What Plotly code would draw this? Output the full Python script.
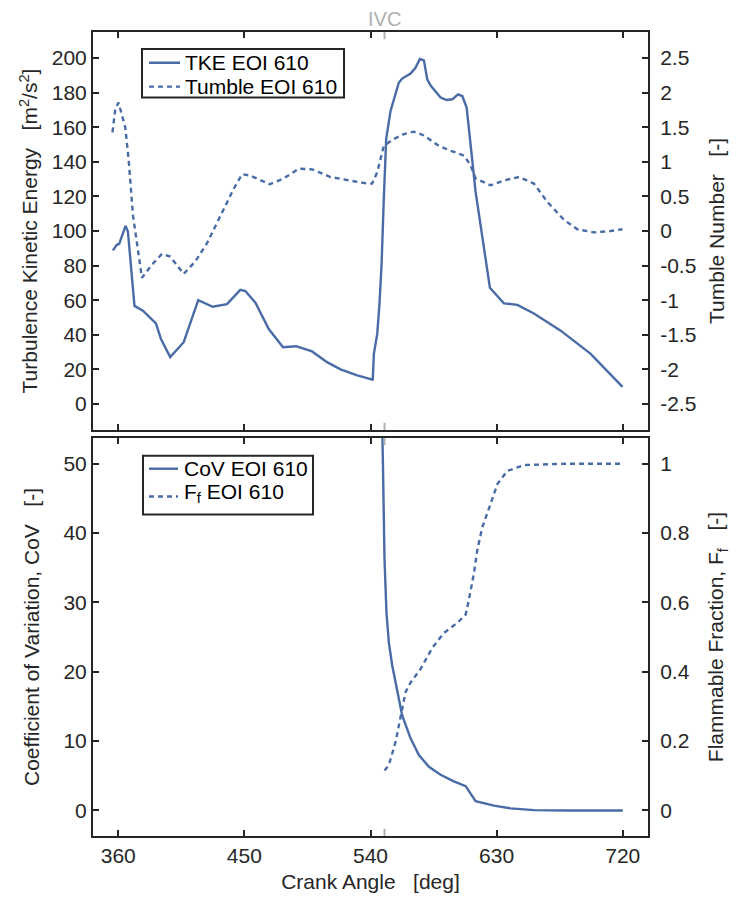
import plotly.graph_objects as go

# ---------------- data ----------------
tke_angle = [356.2, 359.0, 360.7, 365.2, 366.9, 371.6, 377.6, 386.9, 390.5, 397.1,
             406.7, 417.1, 427.4, 437.6, 447.1, 450.7, 457.9, 467.4, 477.6, 486.9,
             498.3, 509.0, 518.6, 530.5, 540.7, 541.6, 542.4, 544.8, 546.4, 547.9,
             549.5, 551.2, 554.3, 560.2, 562.6, 568.6, 572.1, 575.2, 578.1, 580.5,
             582.9, 590.0, 594.3, 598.4, 602.4, 605.5, 608.6, 615.0, 625.2, 635.2,
             644.8, 656.6, 675.7, 690.0, 697.1, 719.8]
tke_value = [88.8, 92.0, 92.6, 103.0, 99.7, 56.7, 53.9, 46.6, 37.6, 27.1,
             35.7, 60.0, 56.2, 57.7, 66.0, 65.3, 58.6, 43.3, 32.8, 33.4,
             30.4, 24.2, 20.0, 16.6, 14.3, 13.8, 29.0, 40.5, 57.7, 80.6,
             118.8, 153.2, 169.4, 185.7, 188.1, 191.0, 194.3, 199.4, 198.6, 187.6,
             184.1, 177.1, 175.7, 176.1, 179.0, 178.0, 171.3, 122.6, 67.2, 58.2,
             57.3, 52.3, 42.4, 33.8, 29.0, 9.9]

tumble_angle = [355.9, 357.9, 360.2, 365.0, 367.4, 370.5, 376.9, 384.1, 391.2, 397.1,
                406.7, 415.0, 423.4, 432.9, 442.4, 448.4, 454.3, 468.1, 478.1, 488.8,
                498.4, 511.4, 524.5, 537.6, 541.2, 544.8, 549.5, 556.7, 563.8, 571.0,
                578.1, 588.8, 597.1, 606.7, 611.4, 615.0, 625.7, 635.2, 646.0, 656.6,
                666.2, 678.1, 687.6, 699.5, 711.4, 719.8]
tumble_value = [1.425, 1.76, 1.855, 1.50, 1.04, 0.23, -0.676, -0.486, -0.33, -0.37,
                -0.62, -0.44, -0.175, 0.23, 0.61, 0.82, 0.80, 0.675, 0.76, 0.90,
                0.89, 0.78, 0.73, 0.685, 0.685, 0.85, 1.23, 1.33, 1.40, 1.435,
                1.38, 1.23, 1.16, 1.09, 0.95, 0.76, 0.66, 0.73, 0.78, 0.685,
                0.42, 0.16, 0.025, -0.02, 0.0, 0.025]

cov_angle = [548.2, 549.0, 550.0, 551.4, 553.1, 555.5, 559.1, 562.6, 568.6, 574.5,
             581.7, 590.0, 599.5, 607.9, 615.0, 628.1, 640.0, 656.6, 680.0, 720.0]
cov_value = [58.0, 45.7, 36.2, 28.5, 24.2, 20.9, 17.1, 13.7, 10.4, 8.0,
             6.3, 5.15, 4.2, 3.5, 1.33, 0.7, 0.3, 0.05, 0.0, 0.0]

ff_angle = [550.0, 553.1, 557.9, 561.4, 565.0, 568.6, 575.7, 584.1, 592.4, 602.0,
            607.9, 610.2, 613.8, 616.2, 619.8, 625.7, 630.5, 637.6, 649.5, 680.0, 720.0]
ff_value = [0.115, 0.131, 0.198, 0.265, 0.341, 0.369, 0.408, 0.469, 0.512, 0.541,
            0.565, 0.608, 0.684, 0.751, 0.817, 0.884, 0.941, 0.979, 0.996, 1.0, 1.0]

ivc_angle = 550
ivc_label = "IVC"

series_names = ["TKE EOI 610", "Tumble EOI 610", "CoV EOI 610", "F<sub>f</sub> EOI 610"]

x_ticks = [360, 450, 540, 630, 720]
tke_ticks = [0, 20, 40, 60, 80, 100, 120, 140, 160, 180, 200]
tumble_ticks = [-2.5, -2, -1.5, -1, -0.5, 0, 0.5, 1, 1.5, 2, 2.5]
tumble_ticktext = ["-2.5", "-2", "-1.5", "-1", "-0.5", "0", "0.5", "1", "1.5", "2", "2.5"]
cov_ticks = [0, 10, 20, 30, 40, 50]
ff_ticks = [0, 0.2, 0.4, 0.6, 0.8, 1]
ff_ticktext = ["0", "0.2", "0.4", "0.6", "0.8", "1"]

# ---------------- style ----------------
BLUE = "#4a6ca6"
DARK = "#262626"
GREY = "#b0b0b0"
FONT = "Liberation Sans, Arial, Helvetica, sans-serif"
FS = 21
LW = 2.4
DOT = "5px,4px"
NB = "\u00a0\u00a0\u00a0"

fig = go.Figure()

fig.add_trace(go.Scatter(x=tke_angle, y=tke_value, mode="lines", name=series_names[0],
                         line=dict(color=BLUE, width=LW), xaxis="x", yaxis="y", showlegend=False))
fig.add_trace(go.Scatter(x=tumble_angle, y=tumble_value, mode="lines", name=series_names[1],
                         line=dict(color=BLUE, width=LW, dash=DOT), xaxis="x", yaxis="y2", showlegend=False))
fig.add_trace(go.Scatter(x=cov_angle, y=cov_value, mode="lines", name=series_names[2],
                         line=dict(color=BLUE, width=LW), xaxis="x2", yaxis="y3", showlegend=False))
fig.add_trace(go.Scatter(x=ff_angle, y=ff_value, mode="lines", name=series_names[3],
                         line=dict(color=BLUE, width=LW, dash=DOT), xaxis="x2", yaxis="y4", showlegend=False))

axis_common = dict(showgrid=False, zeroline=False, showline=True, linecolor=DARK, linewidth=2,
                   ticks="inside", ticklen=6, tickwidth=1.5, tickcolor=DARK,
                   tickfont=dict(family=FONT, size=FS, color=DARK))

x_range = [342, 738]
top_dom = [0.505, 1.0]
bot_dom = [0.0, 0.495]
title_font = dict(family=FONT, size=FS, color=DARK)

fig.update_layout(
    width=729, height=894, autosize=False,
    margin=dict(l=85, r=89, t=24, b=60),
    paper_bgcolor="white", plot_bgcolor="white",
    font=dict(family=FONT, size=FS, color=DARK),
    showlegend=False,
    xaxis=dict(domain=[0, 1], anchor="y", range=x_range, tickvals=x_ticks,
               showticklabels=False, mirror="ticks", **axis_common),
    yaxis=dict(domain=top_dom, anchor="x", range=[-15, 215], tickvals=tke_ticks,
               title=dict(text="Turbulence Kinetic Energy" + NB + "[m<sup>2</sup>/s<sup>2</sup>]",
                          font=title_font, standoff=8),
               **axis_common),
    yaxis2=dict(overlaying="y", side="right", anchor="x", range=[-2.875, 2.875],
                tickvals=tumble_ticks, ticktext=tumble_ticktext, ticklabelstandoff=6,
                title=dict(text="Tumble Number" + NB + "[-]", font=title_font, standoff=14),
                **axis_common),
    xaxis2=dict(domain=[0, 1], anchor="y3", range=x_range, tickvals=x_ticks,
                mirror="ticks",
                title=dict(text="Crank Angle" + NB + "[deg]", font=title_font, standoff=8),
                **axis_common),
    yaxis3=dict(domain=bot_dom, anchor="x2", range=[-3.68, 53.7], tickvals=cov_ticks,
                title=dict(text="Coefficient of Variation, CoV" + NB + "[-]",
                           font=title_font, standoff=18),
                **axis_common),
    yaxis4=dict(overlaying="y3", side="right", anchor="x2", range=[-0.0736, 1.074],
                tickvals=ff_ticks, ticktext=ff_ticktext, ticklabelstandoff=6,
                title=dict(text="Flammable Fraction, F<sub>f</sub>" + NB + "[-]",
                           font=title_font, standoff=20),
                **axis_common),
)

shapes = []
# IVC marker ticks on frames of both panels
for xr, yr in (("x", "y domain"), ("x2", "y3 domain")):
    shapes.append(dict(type="line", xref=xr, yref=yr, x0=ivc_angle, x1=ivc_angle, y0=0, y1=0.018,
                       line=dict(color=GREY, width=2)))
    shapes.append(dict(type="line", xref=xr, yref=yr, x0=ivc_angle, x1=ivc_angle, y0=0.982, y1=1,
                       line=dict(color=GREY, width=2)))

# legend boxes (MATLAB-style, compact rows)
legend_boxes = [
    dict(box=(0.0883, 0.9185, 0.4523, 0.979), key_x=(0.1009, 0.1568), text_x=0.164,
         rows=[(0.9617, 0.9617, series_names[0], "solid"), (0.9321, 0.9321, series_names[1], DOT)]),
    dict(box=(0.0901, 0.4000, 0.3964, 0.4728), key_x=(0.1009, 0.1532), text_x=0.1621,
         rows=[(0.4568, 0.4568, series_names[2], "solid"), (0.4222, 0.4272, series_names[3], DOT)]),
]
annotations = []
for lg in legend_boxes:
    x0, y0, x1, y1 = lg["box"]
    shapes.append(dict(type="rect", xref="paper", yref="paper", x0=x0, y0=y0, x1=x1, y1=y1,
                       fillcolor="white", line=dict(color=DARK, width=2), layer="above"))
    for key_y, txt_y, name, dash in lg["rows"]:
        shapes.append(dict(type="line", xref="paper", yref="paper",
                           x0=lg["key_x"][0], x1=lg["key_x"][1], y0=key_y, y1=key_y,
                           line=dict(color=BLUE, width=LW, dash=dash), layer="above"))
        annotations.append(dict(x=lg["text_x"], y=txt_y, xref="paper", yref="paper",
                                xanchor="left", yanchor="middle", text=name, showarrow=False,
                                borderpad=0, font=dict(family=FONT, size=FS, color="black")))

annotations.append(dict(x=ivc_angle, xref="x", y=1.0, yref="paper", yanchor="middle", yshift=13,
                        text=ivc_label, showarrow=False, borderpad=0,
                        font=dict(family=FONT, size=20, color=GREY)))

fig.update_layout(shapes=shapes, annotations=annotations)

fig.write_html("out.html")
